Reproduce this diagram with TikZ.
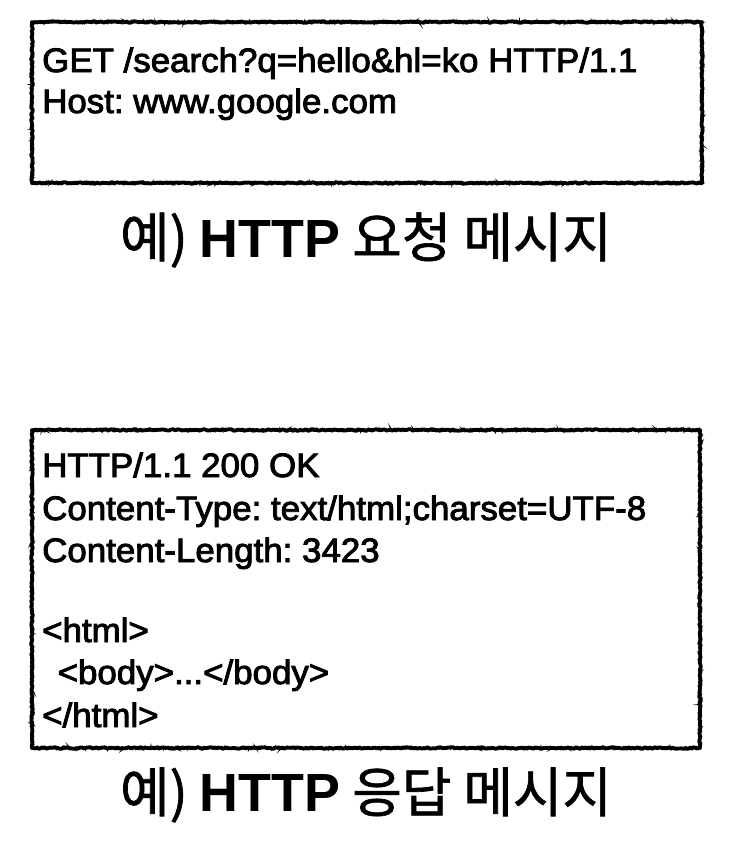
\documentclass[tikz,border=0pt]{standalone}
\usepackage{fontspec}
\usepackage{graphicx}
\setmainfont{Liberation Sans}
\newfontfamily\bodyfont{Liberation Sans}[FakeBold=2.6]
\newfontfamily\kofont{Noto Sans CJK KR}[FakeBold=1.2]
\newfontfamily\latbold{Liberation Sans Bold}
\frenchspacing
\usetikzlibrary{decorations.pathmorphing}
\begin{document}
\begin{tikzpicture}[x=1bp,y=-1bp,
  roughbox/.style={draw=black,line width=3.8bp,line join=round,
    decorate,decoration={random steps,segment length=1.5bp,amplitude=0.8bp}},
  roughedge/.style={draw=black,line width=1.4bp,
    decorate,decoration={random steps,segment length=1.2bp,amplitude=1.3bp}},
  msgline/.style={anchor=base west,inner sep=0pt,font=\bodyfont\fontsize{34}{38}\selectfont},
  caption/.style={anchor=center,inner sep=0pt,font=\kofont\fontsize{54}{60}\selectfont}]
\pgfmathsetseed{7}
\fill[white] (0,0) rectangle (736,842);
\useasboundingbox (0,0) rectangle (736,842);
% request box
\draw[roughbox] (32,22) rectangle (702,183);
\draw[roughedge] (32,22) rectangle (702,183);
\node[msgline] (r1) at (42,72) {\scalebox{1.03}[1]{GET /search?q=hello\&hl=ko HTTP/1.1}};
\node[msgline] (r2) at (42,113) {\scalebox{1.03}[1]{Host: www.google.com}};
\node[caption] (c1) at (366,240) {예) {\latbold HTTP} 요청 메시지};
% response box
\draw[roughbox] (32,430) rectangle (700,748);
\draw[roughedge] (32,430) rectangle (700,748);
\node[msgline] (s1) at (42,477) {\scalebox{1.03}[1]{HTTP/1.1 200 OK}};
\node[msgline] (s2) at (42,520) {\scalebox{1.03}[1]{Content-Type: text/html;charset=UTF-8}};
\node[msgline] (s3) at (42,562) {\scalebox{1.03}[1]{Content-Length: 3423}};
\node[msgline] (s4) at (42,642) {\scalebox{1.03}[1]{<html>}};
\node[msgline] (s5) at (42,684) {\scalebox{1.03}[1]{\hspace*{15bp}<body>...</body>}};
\node[msgline] (s6) at (42,727) {\scalebox{1.03}[1]{</html>}};
\node[caption] (c2) at (366,795) {예) {\latbold HTTP} 응답 메시지};
\end{tikzpicture}
\end{document}
